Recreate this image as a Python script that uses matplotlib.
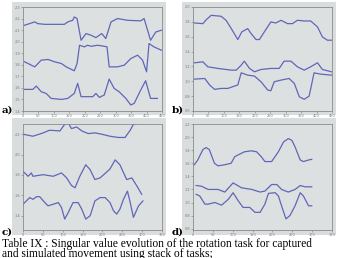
import numpy as np
import matplotlib
matplotlib.use("Agg")
import matplotlib.pyplot as plt
from matplotlib.patches import Rectangle

# ---- data ----
# panel a (x 0..450)
a_top_x = [5, 38, 48, 70, 102, 134, 145, 161, 166, 175, 188, 204, 220, 236, 255, 268, 285, 306, 338, 381, 392, 413, 430, 448]
a_top_y = [2.142, 2.171, 2.156, 2.15, 2.15, 2.15, 2.171, 2.185, 2.214, 2.2, 2.012, 2.07, 2.056, 2.035, 2.07, 2.027, 2.171, 2.2, 2.185, 2.18, 2.2, 2.012, 2.084, 2.099]
a_mid_x = [5, 38, 59, 81, 102, 124, 140, 166, 175, 183, 199, 209, 220, 242, 263, 272, 279, 306, 328, 349, 371, 387, 400, 408, 424, 448]
a_mid_y = [1.826, 1.782, 1.84, 1.846, 1.826, 1.811, 1.782, 1.748, 1.81, 1.969, 1.955, 1.969, 1.96, 1.969, 1.96, 1.955, 1.782, 1.782, 1.797, 1.854, 1.883, 1.84, 1.739, 1.984, 1.955, 1.926]
a_bot_x = [5, 32, 43, 59, 75, 91, 124, 145, 166, 177, 188, 209, 226, 236, 247, 263, 279, 295, 311, 333, 349, 360, 381, 397, 413, 435]
a_bot_y = [1.587, 1.587, 1.616, 1.567, 1.552, 1.509, 1.5, 1.509, 1.552, 1.639, 1.524, 1.524, 1.524, 1.552, 1.518, 1.538, 1.676, 1.596, 1.567, 1.509, 1.452, 1.466, 1.581, 1.662, 1.509, 1.509]

# panel b (x 0..450)
b_top_x = [5, 32, 43, 59, 91, 107, 124, 140, 145, 158, 177, 188, 204, 215, 231, 252, 268, 285, 306, 322, 338, 360, 381, 403, 419, 435, 448]
b_top_y = [1.785, 1.776, 1.83, 1.888, 1.875, 1.821, 1.709, 1.597, 1.562, 1.665, 1.709, 1.642, 1.562, 1.562, 1.665, 1.799, 1.785, 1.821, 1.776, 1.776, 1.821, 1.812, 1.812, 1.732, 1.597, 1.553, 1.553]
b_mid_x = [5, 32, 48, 81, 124, 140, 156, 166, 183, 199, 220, 252, 279, 295, 317, 338, 360, 381, 403, 419, 448]
b_mid_y = [1.249, 1.262, 1.195, 1.173, 1.15, 1.15, 1.217, 1.271, 1.173, 1.128, 1.159, 1.173, 1.173, 1.271, 1.271, 1.195, 1.15, 1.195, 1.249, 1.159, 1.128]
b_bot_x = [5, 38, 54, 70, 91, 113, 134, 145, 156, 177, 199, 220, 242, 252, 263, 285, 311, 328, 344, 360, 376, 392, 413, 448]
b_bot_y = [1.029, 1.038, 0.949, 0.891, 0.904, 0.904, 0.935, 0.949, 1.114, 1.083, 1.07, 0.994, 0.882, 0.873, 0.994, 1.016, 1.038, 0.971, 0.792, 0.757, 0.801, 1.114, 1.096, 1.083]

# panel c (x 0..350)
c_top_x = [0, 25, 51, 67, 93, 105, 114, 122, 135, 148, 164, 181, 198, 219, 240, 257, 270, 278, 303, 325]
c_top_y = [2.2, 2.18, 2.213, 2.239, 2.232, 2.297, 2.31, 2.255, 2.271, 2.232, 2.206, 2.213, 2.2, 2.18, 2.168, 2.168, 2.239, 2.297, 2.32, 2.31]
c_mid_x = [0, 13, 21, 25, 51, 76, 97, 110, 122, 131, 143, 158, 169, 181, 194, 219, 232, 244, 261, 274, 287, 299]
c_mid_y = [1.835, 1.787, 1.82, 1.787, 1.803, 1.787, 1.82, 1.771, 1.697, 1.674, 1.787, 1.9, 1.852, 1.755, 1.771, 1.858, 1.948, 1.9, 1.755, 1.771, 1.69, 1.61]
c_bot_x = [0, 17, 25, 34, 42, 55, 63, 76, 89, 97, 105, 114, 126, 139, 148, 158, 169, 181, 194, 207, 219, 228, 236, 244, 253, 263, 270, 278, 291, 302]
c_bot_y = [1.513, 1.578, 1.561, 1.587, 1.587, 1.529, 1.497, 1.513, 1.529, 1.48, 1.367, 1.432, 1.529, 1.529, 1.464, 1.367, 1.4, 1.545, 1.578, 1.578, 1.529, 1.448, 1.416, 1.464, 1.561, 1.641, 1.529, 1.384, 1.497, 1.545]

# panel d (x 0..350)
d_top_x = [3, 12, 25, 33, 41, 54, 63, 79, 96, 105, 113, 130, 147, 160, 172, 181, 198, 215, 228, 240, 249, 257, 270, 278, 291, 299]
d_top_y = [1.576, 1.65, 1.81, 1.84, 1.81, 1.60, 1.56, 1.576, 1.60, 1.70, 1.726, 1.776, 1.79, 1.776, 1.70, 1.626, 1.626, 1.776, 1.926, 1.977, 1.95, 1.85, 1.65, 1.626, 1.65, 1.66]
d_mid_x = [8, 21, 38, 63, 80, 101, 122, 148, 169, 181, 198, 211, 223, 240, 257, 270, 282, 299]
d_mid_y = [1.26, 1.25, 1.2, 1.2, 1.16, 1.30, 1.225, 1.2, 1.16, 1.175, 1.275, 1.275, 1.2, 1.16, 1.2, 1.26, 1.24, 1.24]
d_bot_x = [8, 17, 30, 38, 55, 72, 89, 101, 114, 126, 143, 156, 169, 181, 190, 207, 215, 223, 234, 244, 257, 270, 278, 291, 299]
d_bot_y = [1.125, 1.1, 0.975, 0.975, 1.0, 0.96, 1.05, 1.15, 1.025, 0.925, 0.925, 0.85, 0.85, 0.975, 1.14, 1.15, 1.1, 0.95, 0.75, 0.8, 0.95, 1.15, 1.1, 0.95, 0.95]

panels = [
    ("a)", [(a_top_x, a_top_y), (a_mid_x, a_mid_y), (a_bot_x, a_bot_y)], (0, 450), (1.4, 2.3), np.arange(0, 451, 50), np.arange(1.4, 2.31, 0.1)),
    ("b)", [(b_top_x, b_top_y), (b_mid_x, b_mid_y), (b_bot_x, b_bot_y)], (0, 450), (0.6, 2.0), np.arange(0, 451, 50), np.arange(0.6, 2.01, 0.2)),
    ("c)", [(c_top_x, c_top_y), (c_mid_x, c_mid_y), (c_bot_x, c_bot_y)], (0, 350), (1.26, 2.3), np.arange(0, 351, 50), np.arange(1.4, 2.21, 0.2)),
    ("d)", [(d_top_x, d_top_y), (d_mid_x, d_mid_y), (d_bot_x, d_bot_y)], (0, 350), (0.58, 2.2), np.arange(0, 351, 50), np.arange(0.6, 2.21, 0.2)),
]

W, H = 340, 258
fig = plt.figure(figsize=(3.4, 2.58), dpi=100)

# pixel boxes: (left, top, right, bottom) of plot area and grey panel
axes_px = [(23, 7, 162, 111), (193, 7, 332, 111), (23, 124, 162, 230), (193, 124, 332, 230)]
grey_px = [(12, 2, 166, 115), (182, 2, 336, 115), (12, 118, 166, 235), (182, 118, 336, 235)]
label_px = [(2, 110), (172, 110), (2, 232), (172, 232)]

line_col = "#6066b8"
for (lab, series, xl, yl, xt, yt), (l, t, r, b), (gl, gt, gr, gb), (lx, ly) in zip(panels, axes_px, grey_px, label_px):
    fig.patches.append(Rectangle((gl / W, 1 - gb / H), (gr - gl) / W, (gb - gt) / H,
                                 transform=fig.transFigure, facecolor="#dadddd",
                                 edgecolor="none", zorder=-5))
    ax = fig.add_axes([l / W, 1 - b / H, (r - l) / W, (b - t) / H])
    ax.set_zorder(2)
    ax.set_facecolor("#dde0e0")
    for xs, ys in series:
        ax.plot(xs, ys, color=line_col, lw=0.9)
    ax.set_xlim(*xl)
    ax.set_ylim(*yl)
    ax.set_xticks(xt)
    ax.set_yticks(yt)
    ax.set_xticklabels([str(v) for v in xt])
    ax.set_yticklabels(["%.1f" % v for v in yt])
    ax.tick_params(labelsize=2.5, length=1.5, width=0.4, pad=0.6, colors="#777777")
    for s in ax.spines.values():
        s.set_color("#8a8a8a")
        s.set_linewidth(0.6)
    fig.text(lx / W, 1 - ly / H, lab, fontsize=7.5, fontweight="bold",
             family="DejaVu Serif", ha="left", va="center")

fig.text(2 / W, 1 - 243.5 / H,
         "Table IX : Singular value evolution of the rotation task for captured",
         fontsize=8.3, family="Liberation Serif", ha="left", va="center")
fig.text(2 / W, 1 - 254.5 / H,
         "and simulated movement using stack of tasks;",
         fontsize=8.3, family="Liberation Serif", ha="left", va="center")

fig.savefig("out.png", dpi=100)
